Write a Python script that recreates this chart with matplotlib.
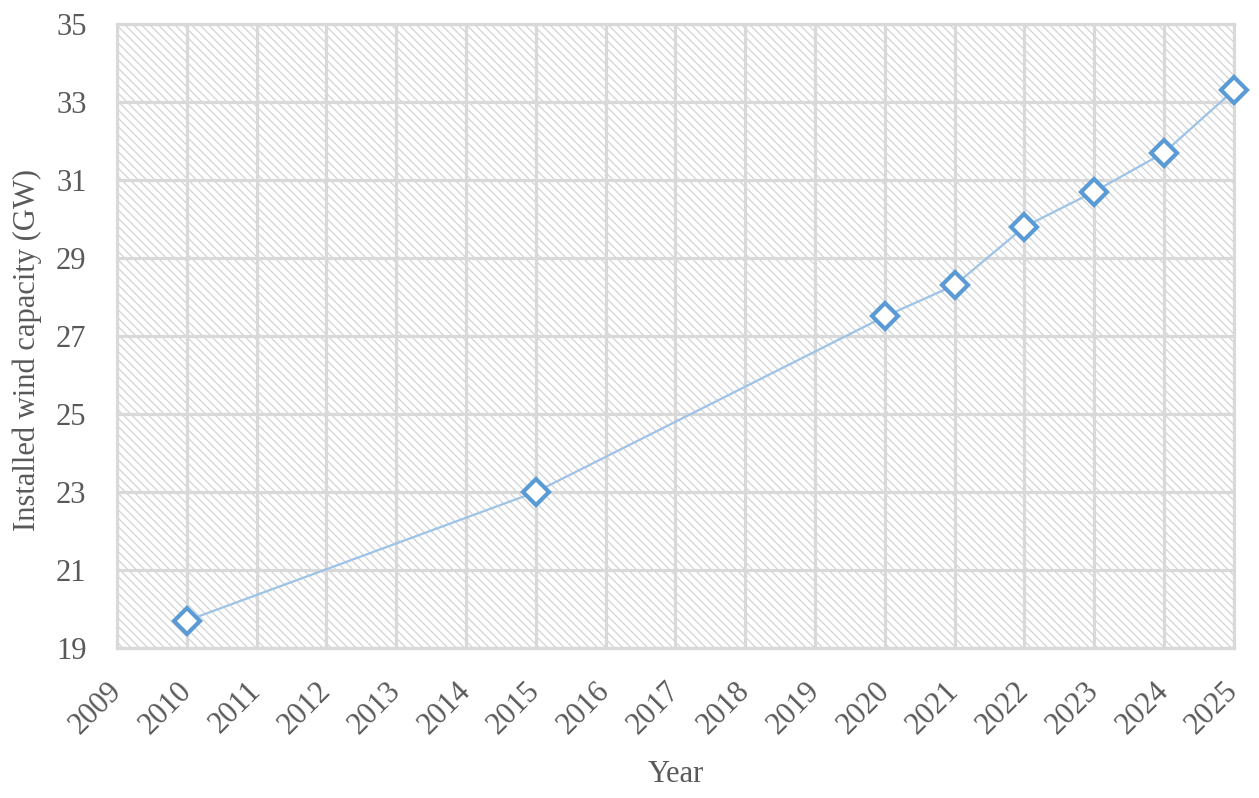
import numpy as np
import matplotlib
matplotlib.use("Agg")
import matplotlib.pyplot as plt
from matplotlib.patches import Rectangle

###############################################################################
#Data
###############################################################################
years = [2010, 2015, 2020, 2021, 2022, 2023, 2024, 2025]
capacity = [19.7, 23.0, 27.5, 28.3, 29.8, 30.7, 31.7, 33.3]
xticks = list(range(2009, 2026))
yticks = list(range(19, 36, 2))

###############################################################################
#Plot
###############################################################################
plt.rcParams['font.family'] = "Liberation Serif"
plt.rcParams['hatch.color'] = "#d3d3d3"
plt.rcParams['hatch.linewidth'] = 0.9

fig, ax = plt.subplots(figsize = (12.59, 7.98), dpi = 100)
fig.subplots_adjust(left = 0.093, right = 0.980, top = 0.970, bottom = 0.188)

#Hatched background
bg = Rectangle((0, 0), 1, 1, transform = ax.transAxes, facecolor = "white",
               edgecolor = "#d3d3d3", hatch = "\\\\\\\\", linewidth = 0, zorder = 0)
ax.add_patch(bg)

#Line
ax.plot(years, capacity, color = "#9dc3e6", linewidth = 1.6, zorder = 3, clip_on = False)
ax.plot(years, capacity, linestyle = "none", marker = "D", markersize = 13,
        markerfacecolor = "white", markeredgecolor = "#5b9bd5", markeredgewidth = 3,
        zorder = 4, clip_on = False)

#Limits and ticks
ax.set_xlim(2009, 2025)
ax.set_ylim(19, 35)
ax.set_xticks(xticks)
ax.set_yticks(yticks)
ax.set_xticklabels([str(y) for y in xticks], rotation = 45, ha = "right", va = "center",
                   rotation_mode = "anchor")
ax.tick_params(axis = "both", length = 0, labelsize = 22, labelcolor = "#595959")
ax.tick_params(axis = "y", pad = 22)
ax.tick_params(axis = "x", pad = 28)

#Grid
ax.grid(True, color = "#d9d9d9", linewidth = 2.3, zorder = 1)
ax.set_axisbelow(True)
for s in ax.spines.values():
    s.set_color("#d9d9d9")
    s.set_linewidth(2.3)

#Labels
ax.set_xlabel("Year", fontsize = 22, color = "#595959")
ax.set_ylabel("Installed wind capacity (GW)", fontsize = 22, color = "#595959")
ax.xaxis.set_label_coords(0.5, -0.18)
ax.yaxis.set_label_coords(-0.067, 0.478)

fig.savefig("out.png", dpi = 100)
